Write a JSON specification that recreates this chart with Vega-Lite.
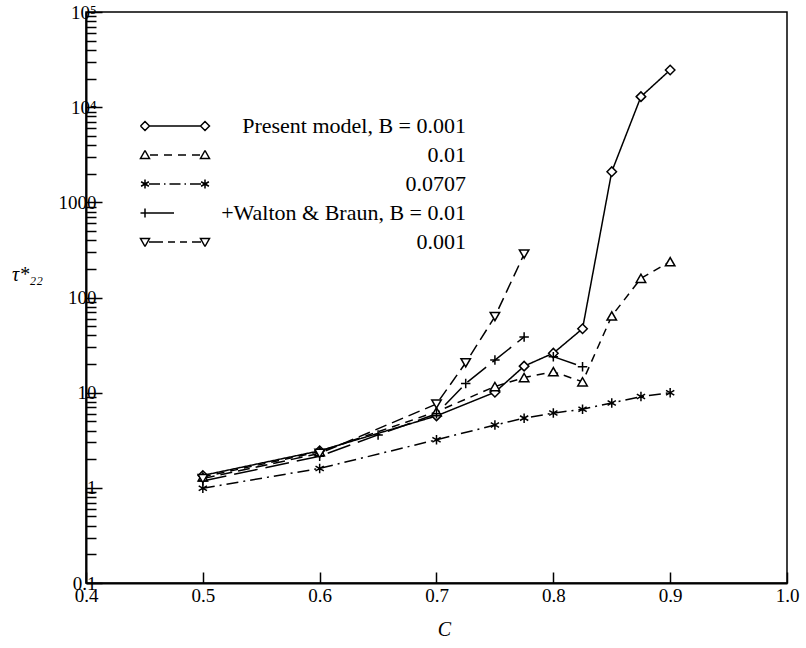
{
  "$schema": "https://vega.github.io/schema/vega-lite/v6.json",
  "width": 701,
  "height": 571,
  "autosize": {"type": "none"},
  "padding": {"left": 86, "top": 12, "right": 19, "bottom": 65},
  "background": "white",
  "config": {
    "view": {"stroke": "black", "strokeWidth": 1.5},
    "font": "Liberation Serif",
    "axis": {
      "domainColor": "black", "domainWidth": 2, "tickColor": "black", "tickWidth": 1.5,
      "labelColor": "black", "labelFont": "Liberation Serif", "labelFontSize": 19,
      "titleColor": "black", "titleFont": "Liberation Serif", "grid": false
    }
  },
  "data": {
    "values": [
      {"series": "P1", "seg": "P1", "C": 0.5, "v": 1.35},
      {"series": "P1", "seg": "P1", "C": 0.6, "v": 2.45},
      {"series": "P1", "seg": "P1", "C": 0.7, "v": 5.7},
      {"series": "P1", "seg": "P1", "C": 0.75, "v": 10.1},
      {"series": "P1", "seg": "P1", "C": 0.775, "v": 19},
      {"series": "P1", "seg": "P1", "C": 0.8, "v": 26},
      {"series": "P1", "seg": "P1", "C": 0.825, "v": 47},
      {"series": "P1", "seg": "P1", "C": 0.85, "v": 2100},
      {"series": "P1", "seg": "P1", "C": 0.875, "v": 12900},
      {"series": "P1", "seg": "P1", "C": 0.9, "v": 24600},
      {"series": "P2", "seg": "P2", "C": 0.5, "v": 1.3},
      {"series": "P2", "seg": "P2", "C": 0.6, "v": 2.4},
      {"series": "P2", "seg": "P2", "C": 0.7, "v": 6.3},
      {"series": "P2", "seg": "P2", "C": 0.75, "v": 11.6},
      {"series": "P2", "seg": "P2", "C": 0.775, "v": 14.4},
      {"series": "P2", "seg": "P2", "C": 0.8, "v": 16.6},
      {"series": "P2", "seg": "P2", "C": 0.825, "v": 13},
      {"series": "P2", "seg": "P2", "C": 0.85, "v": 64},
      {"series": "P2", "seg": "P2", "C": 0.875, "v": 159},
      {"series": "P2", "seg": "P2", "C": 0.9, "v": 238},
      {"series": "P3", "seg": "P3", "C": 0.5, "v": 0.99},
      {"series": "P3", "seg": "P3", "C": 0.6, "v": 1.6},
      {"series": "P3", "seg": "P3", "C": 0.7, "v": 3.2},
      {"series": "P3", "seg": "P3", "C": 0.75, "v": 4.57},
      {"series": "P3", "seg": "P3", "C": 0.775, "v": 5.4},
      {"series": "P3", "seg": "P3", "C": 0.8, "v": 6.1},
      {"series": "P3", "seg": "P3", "C": 0.825, "v": 6.7},
      {"series": "P3", "seg": "P3", "C": 0.85, "v": 7.8},
      {"series": "P3", "seg": "P3", "C": 0.875, "v": 9.1},
      {"series": "P3", "seg": "P3", "C": 0.9, "v": 10},
      {"series": "WB1", "seg": "WB1a", "C": 0.5, "v": 1.18},
      {"series": "WB1", "seg": "WB1a", "C": 0.6, "v": 2.15},
      {"series": "WB1", "seg": "WB1a", "C": 0.65, "v": 3.6},
      {"series": "WB1", "seg": "WB1a", "C": 0.7, "v": 6.0},
      {"series": "WB1", "seg": "WB1a", "C": 0.725, "v": 12.5},
      {"series": "WB1", "seg": "WB1a", "C": 0.75, "v": 22},
      {"series": "WB1", "seg": "WB1a", "C": 0.775, "v": 38.5},
      {"series": "WB1", "seg": "WB1b", "C": 0.8, "v": 23.9},
      {"series": "WB1", "seg": "WB1b", "C": 0.825, "v": 18.7},
      {"series": "WB2", "seg": "WB2", "C": 0.5, "v": 1.25},
      {"series": "WB2", "seg": "WB2", "C": 0.6, "v": 2.3},
      {"series": "WB2", "seg": "WB2", "C": 0.7, "v": 7.6},
      {"series": "WB2", "seg": "WB2", "C": 0.725, "v": 20.6},
      {"series": "WB2", "seg": "WB2", "C": 0.75, "v": 63},
      {"series": "WB2", "seg": "WB2", "C": 0.775, "v": 286}
    ]
  },
  "layer": [
    {
      "mark": {"type": "line", "color": "black", "strokeWidth": 1.5},
      "encoding": {
        "x": {
          "field": "C", "type": "quantitative",
          "scale": {"domain": [0.4, 1.0], "nice": false, "zero": false},
          "axis": {
            "values": [0.4, 0.5, 0.6, 0.7, 0.8, 0.9, 1.0],
            "format": ".1f", "tickSize": -11, "labelPadding": 14,
            "labelFlush": false, "labelOverlap": false,
            "title": "C", "titleFontStyle": "italic", "titleFontSize": 20, "titleFontWeight": "normal",
            "titleX": 358, "titleY": 46, "titleBaseline": "middle", "titleAlign": "center"
          }
        },
        "y": {
          "field": "v", "type": "quantitative",
          "scale": {"type": "log", "domain": [0.1, 100000], "nice": false},
          "axis": {
            "values": [0.1, 0.2, 0.3, 0.4, 0.5, 0.6, 0.7, 0.8, 0.9, 1, 2, 3, 4, 5, 6, 7, 8, 9, 10, 20, 30, 40, 50, 60, 70, 80, 90, 100, 200, 300, 400, 500, 600, 700, 800, 900, 1000, 2000, 3000, 4000, 5000, 6000, 7000, 8000, 9000, 10000, 20000, 30000, 40000, 50000, 60000, 70000, 80000, 90000, 100000],
            "format": "~g",
            "labelExpr": "datum.value == 100000 ? '10⁵' : datum.value == 10000 ? '10⁴' : (datum.value == 0.1 || datum.value == 1 || datum.value == 10 || datum.value == 100 || datum.value == 1000) ? datum.label : ''",
            "tickSize": {"condition": {"test": "datum.value == 0.1 || datum.value == 1 || datum.value == 10 || datum.value == 100 || datum.value == 1000 || datum.value == 10000 || datum.value == 100000", "value": -16}, "value": -10},
            "labelPadding": 6,
            "labelOverlap": false, "labelBound": false, "labelFlush": false,
            "title": "τ*₂₂", "titleAngle": 0, "titleX": -59, "titleY": 262,
            "titleFontStyle": "italic", "titleFontSize": 20, "titleFontWeight": "normal",
            "titleAlign": "center", "titleBaseline": "middle"
          }
        },
        "detail": {"field": "seg"},
        "strokeDash": {
          "field": "series", "type": "nominal",
          "scale": {"domain": ["P1", "P2", "P3", "WB1", "WB2"], "range": [[1, 0], [8, 6], [12, 5, 2, 5], [24, 8], [12, 6]]},
          "legend": null
        }
      }
    },
    {
      "mark": {"type": "point", "fill": "white", "stroke": "black", "strokeWidth": 1.5, "opacity": 1, "size": 90},
      "encoding": {
        "x": {"field": "C", "type": "quantitative"},
        "y": {"field": "v", "type": "quantitative"},
        "shape": {
          "field": "series", "type": "nominal",
          "scale": {"domain": ["P1", "P2", "P3", "WB1", "WB2"], "range": ["diamond", "triangle-up", "M0,-1V1M-0.87,-0.5L0.87,0.5M-0.87,0.5L0.87,-0.5", "M-1,0H1M0,-1V1", "triangle-down"]},
          "legend": null
        }
      }
    },
    {
      "transform": [{"filter": "false"}],
      "mark": {"type": "point", "filled": false, "stroke": "black", "strokeWidth": 1.5, "opacity": 1, "size": 100},
      "encoding": {
        "x": {"field": "C", "type": "quantitative"},
        "y": {"field": "v", "type": "quantitative"},
        "shape": {
          "field": "series", "type": "nominal",
          "scale": {
            "domain": ["P1", "P2", "P3", "WB1", "WB2"],
            "range": [
              "M-5.1,0H5.1M-6.9,0L-6,-0.9L-5.1,0L-6,0.9L-6.9,0M5.1,0L6,-0.9L6.9,0L6,0.9L5.1,0",
              "M-6,-0.9L-5.1,0.7L-6.9,0.7L-6,-0.9M6,-0.9L6.9,0.7L5.1,0.7L6,-0.9M-5,0H-3.4M-2.2,0H-0.6M0.6,0H2.2M3.4,0H5",
              "M-6,-0.9V0.9M-6.78,-0.45L-5.22,0.45M-6.78,0.45L-5.22,-0.45M6,-0.9V0.9M5.22,-0.45L6.78,0.45M5.22,0.45L6.78,-0.45M-5.2,0H-3M-2.2,0H-1.9M-1.1,0H1.1M1.9,0H2.2M3,0H5.2",
              "M-6.9,0H-5.1M-6,-0.9V0.9M-6,0H-0.2",
              "M-6,0.9L-5.1,-0.7L-6.9,-0.7L-6,0.9M6,0.9L6.9,-0.7L5.1,-0.7L6,0.9M-5.2,0H-2.4M-1.4,0H0M1,0H2.4M3.4,0H5.2"
            ]
          },
          "legend": {
            "title": null,
            "orient": "none",
            "legendX": 58,
            "legendY": 103,
            "direction": "vertical",
            "padding": 0,
            "symbolSize": 100,
            "symbolOffset": 20,
            "symbolStrokeWidth": 1.5,
            "symbolStrokeColor": "black",
            "labelAlign": "right",
            "labelOffset": 280,
            "labelLimit": 500,
            "labelFont": "Liberation Serif",
            "labelFontSize": 22,
            "labelColor": "black",
            "rowPadding": 7,
            "labelExpr": "datum.label == 'P1' ? 'Present model, B = 0.001' : datum.label == 'P2' ? '0.01' : datum.label == 'P3' ? '0.0707' : datum.label == 'WB1' ? '+Walton & Braun, B = 0.01' : '0.001'"
          }
        }
      }
    }
  ],
  "resolve": {"scale": {"shape": "independent"}, "legend": {"shape": "independent"}}
}
